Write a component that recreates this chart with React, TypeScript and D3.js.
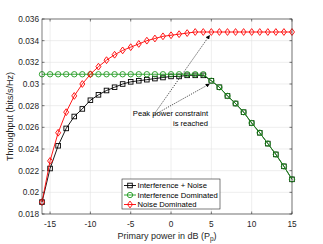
import * as d3 from 'd3'
import React from 'react'

const width = 323
const height = 244
const margin = { top: 19, right: 31, bottom: 30, left: 42 }

const power = d3.range(-16, 16)
const interfNoise = [
  0.0191, 0.0222, 0.0243, 0.0259, 0.0270, 0.0277, 0.0285, 0.0290, 0.0294, 0.0297,
  0.0300, 0.0302, 0.0303, 0.0304, 0.0305, 0.0306, 0.0307, 0.0307, 0.0308, 0.0308,
  0.0308, 0.0303, 0.0297, 0.0289, 0.0282, 0.0274, 0.0264, 0.0255, 0.0245, 0.0235,
  0.0224, 0.0212,
]
const interfDominated = [
  0.0309, 0.0309, 0.0309, 0.0309, 0.0309, 0.0309, 0.0309, 0.0309, 0.0309, 0.0309,
  0.0309, 0.0309, 0.0309, 0.0309, 0.0309, 0.0309, 0.0309, 0.0309, 0.0309, 0.0309,
  0.0309, 0.0303, 0.0297, 0.0289, 0.0282, 0.0274, 0.0264, 0.0255, 0.0245, 0.0235,
  0.0224, 0.0212,
]
const noiseDominated = [
  0.0191, 0.0229, 0.0255, 0.0274, 0.0289, 0.0300, 0.0309, 0.0316, 0.0322, 0.0327,
  0.0331, 0.0334, 0.0337, 0.0340, 0.0342, 0.0344, 0.0345, 0.0346, 0.0347, 0.0348,
  0.0348, 0.0348, 0.0348, 0.0348, 0.0348, 0.0348, 0.0348, 0.0348, 0.0348, 0.0348,
  0.0348, 0.0348,
]
const xTicks = [-15, -10, -5, 0, 5, 10, 15]
const yTicks = [0.018, 0.02, 0.022, 0.024, 0.026, 0.028, 0.03, 0.032, 0.034, 0.036]
const seriesNames = ['Interference + Noise', 'Interference Dominated', 'Noise Dominated']
const seriesColors = ['#000000', '#1f9a1f', '#ff0000']
const seriesMarkers = ['square', 'circle', 'diamond']
const annotation = ['Peak power constraint', 'is reached']
const peakAt = 5

const font = '"Liberation Sans", Arial, sans-serif'
const axisColor = '#262626'

const Marker = ({ kind, x, y, color }: { kind: string; x: number; y: number; color: string }) => {
  if (kind === 'square') return <rect x={x - 2.3} y={y - 2.3} width={4.6} height={4.6} fill='none' stroke={color} strokeWidth={0.9} />
  if (kind === 'circle') return <circle cx={x} cy={y} r={2.7} fill='none' stroke={color} strokeWidth={0.9} />
  return <path d={`M${x},${y - 3.4}L${x + 2.5},${y}L${x},${y + 3.4}L${x - 2.5},${y}Z`} fill='none' stroke={color} strokeWidth={0.9} />
}

const App: React.FC = () => {
  const w = width - margin.left - margin.right
  const h = height - margin.top - margin.bottom
  const x = d3.scaleLinear().domain([-16, 15]).range([margin.left, margin.left + w])
  const y = d3.scaleLinear().domain([0.018, 0.036]).range([margin.top + h, margin.top])
  const allSeries = [interfNoise, interfDominated, noiseDominated]
  const line = d3
    .line<number>()
    .x((d, i) => x(power[i]))
    .y((d) => y(d))

  const peakIdx = power.indexOf(peakAt)
  const arrowFrom = { x: x(-2.2), y: y(0.0271) }
  const arrowTargets = [
    { x: x(peakAt), y: y(noiseDominated[peakIdx]) },
    { x: x(peakAt), y: y(interfNoise[peakIdx]) },
  ]

  const legend = { x: 122, y: 179, w: 98, h: 30 }

  return (
    <svg width={width} height={height} style={{ position: 'absolute', left: 0, top: 0, background: '#fff' }} fontFamily={font}>
      <defs>
        <marker id='ah' viewBox='0 0 10 10' refX='10' refY='5' markerWidth='6' markerHeight='6' orient='auto'>
          <path d='M0,0L10,5L0,10Z' fill='#000' />
        </marker>
      </defs>
      <rect x={margin.left} y={margin.top} width={w} height={h} fill='#fff' />
      {/* grid */}
      {xTicks.map((t) => (
        <line key={'gx' + t} x1={x(t)} x2={x(t)} y1={margin.top} y2={margin.top + h} stroke='#e3e3e3' strokeWidth={0.6} />
      ))}
      {yTicks.map((t) => (
        <line key={'gy' + t} x1={margin.left} x2={margin.left + w} y1={y(t)} y2={y(t)} stroke='#e3e3e3' strokeWidth={0.6} />
      ))}
      {/* series */}
      {allSeries.map((s, si) => (
        <g key={'s' + si}>
          <path d={line(s) || ''} fill='none' stroke={seriesColors[si]} strokeWidth={0.9} />
          {s.map((v, i) => (
            <Marker key={i} kind={seriesMarkers[si]} x={x(power[i])} y={y(v)} color={seriesColors[si]} />
          ))}
        </g>
      ))}
      {/* annotation arrows */}
      {arrowTargets.map((t, i) => (
        <line key={'ar' + i} x1={arrowFrom.x} y1={arrowFrom.y} x2={t.x - 1.5} y2={t.y + 3} stroke='#000' strokeWidth={0.7} strokeDasharray='1.2,1.2' markerEnd='url(#ah)' />
      ))}
      <text x={208} y={116} textAnchor='end' fontSize={7.6} fill='#000'>{annotation[0]}</text>
      <text x={208} y={125.5} textAnchor='end' fontSize={7.6} fill='#000'>{annotation[1]}</text>
      {/* axes box */}
      <rect x={margin.left} y={margin.top} width={w} height={h} fill='none' stroke={axisColor} strokeWidth={0.6} />
      {xTicks.map((t) => (
        <g key={'tx' + t}>
          <line x1={x(t)} x2={x(t)} y1={margin.top + h} y2={margin.top + h - 2.5} stroke={axisColor} strokeWidth={0.6} />
          <line x1={x(t)} x2={x(t)} y1={margin.top} y2={margin.top + 2.5} stroke={axisColor} strokeWidth={0.6} />
          <text x={x(t)} y={margin.top + h + 12.5} textAnchor='middle' fontSize={8.3} fill={axisColor}>
            {t < 0 ? '-' + Math.abs(t) : t}
          </text>
        </g>
      ))}
      {yTicks.map((t) => (
        <g key={'ty' + t}>
          <line x1={margin.left} x2={margin.left + 2.5} y1={y(t)} y2={y(t)} stroke={axisColor} strokeWidth={0.6} />
          <line x1={margin.left + w} x2={margin.left + w - 2.5} y1={y(t)} y2={y(t)} stroke={axisColor} strokeWidth={0.6} />
          <text x={margin.left - 3} y={y(t) + 2.9} textAnchor='end' fontSize={8.3} fill={axisColor}>
            {d3.format('')(+t.toFixed(3))}
          </text>
        </g>
      ))}
      <text x={167} y={238.5} textAnchor='middle' fontSize={9} fill={axisColor}>
        Primary power in dB (P<tspan fontSize={6.5} dy={2.2}>p</tspan><tspan dy={-2.2}>)</tspan>
      </text>
      <text transform={`translate(12.5,${margin.top + h / 2}) rotate(-90)`} textAnchor='middle' fontSize={9} fill={axisColor}>
        Throughput (bits/s/Hz)
      </text>
      {/* legend */}
      <rect x={legend.x} y={legend.y} width={legend.w} height={legend.h} fill='#fff' stroke={axisColor} strokeWidth={0.6} />
      {seriesNames.map((n, i) => {
        const ly = legend.y + 6.5 + i * 9.5
        return (
          <g key={'lg' + i}>
            <line x1={legend.x + 2} x2={legend.x + 14} y1={ly} y2={ly} stroke={seriesColors[i]} strokeWidth={0.9} />
            <Marker kind={seriesMarkers[i]} x={legend.x + 8} y={ly} color={seriesColors[i]} />
            <text x={legend.x + 15.5} y={ly + 2.7} fontSize={7.7} fill='#000'>{n}</text>
          </g>
        )
      })}
    </svg>
  )
}

export default App
